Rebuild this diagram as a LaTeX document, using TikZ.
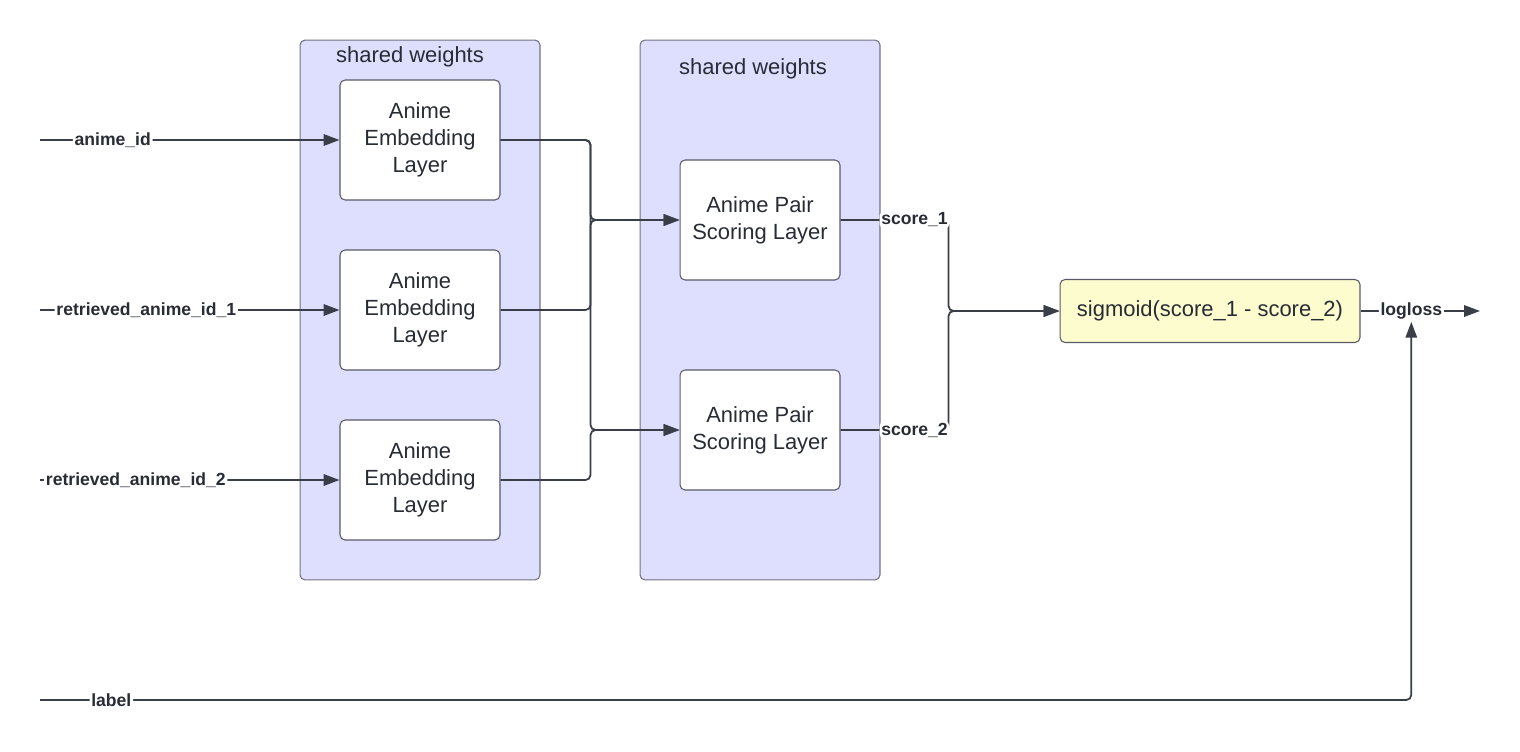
\documentclass[tikz,border=0pt]{standalone}
\usepackage{fontspec}
\setmainfont{Liberation Sans}
\usetikzlibrary{arrows.meta}

\definecolor{grpfill}{RGB}{222,222,255}
\definecolor{grpline}{RGB}{112,114,130}
\definecolor{boxline}{RGB}{88,90,102}
\definecolor{sigfill}{RGB}{252,252,206}
\definecolor{wirecol}{RGB}{58,62,72}
\definecolor{ink}{RGB}{40,44,52}

\tikzset{
  group/.style={draw=grpline, fill=grpfill, rounded corners=0.1cm, line width=0.6pt,
    minimum width=4.8cm, minimum height=10.8cm},
  title/.style={text=ink, font=\fontsize{12.5}{15}\selectfont},
  layer/.style={draw=boxline, fill=white, rounded corners=0.1cm, line width=0.6pt,
    minimum width=3.2cm, minimum height=2.4cm, align=center, text=ink,
    font=\fontsize{12.5}{15.3}\selectfont},
  wire/.style={draw=wirecol, line width=1pt, rounded corners=0.1cm,
    -{Triangle[length=9pt,width=6.5pt]}},
  lbl/.style={fill=white, inner sep=1pt, text=ink, font=\fontsize{10}{12}\selectfont\bfseries},
}

\begin{document}
\begin{tikzpicture}[x=0.02cm, y=-0.02cm]
  \useasboundingbox (0,0) rectangle (1520,751);

  \node[group] (g1) at (420,310) {};
  \node[group] (g2) at (760,310) {};
  \node[title] (t1) at (410,57) {shared weights};
  \node[title] (t2) at (753,69) {shared weights};

  \node[layer] (e1) at (420,140) {Anime\\Embedding\\Layer};
  \node[layer] (e2) at (420,310) {Anime\\Embedding\\Layer};
  \node[layer] (e3) at (420,480) {Anime\\Embedding\\Layer};
  \node[layer] (p1) at (760,220) {Anime Pair\\Scoring Layer};
  \node[layer] (p2) at (760,430) {Anime Pair\\Scoring Layer};
  \node[layer, fill=sigfill, minimum width=6cm, minimum height=1.26cm] (sig) at (1210,311)
    {sigmoid(score\_1 - score\_2)};

  \coordinate (in1) at (40,140);
  \coordinate (in2) at (40,310);
  \coordinate (in3) at (40,480);
  \coordinate (inlab) at (40,700);
  \coordinate (out) at (1480,311);

  % inputs
  \draw[wire] (in1) -- node[lbl, pos=0.243] (l1) {anime\_id} (e1.west);
  \draw[wire] (in2) -- node[lbl, pos=0.355] (l2) {retrieved\_anime\_id\_1} (e2.west);
  \draw[wire] (in3) -- node[lbl, pos=0.32] (l3) {retrieved\_anime\_id\_2} (e3.west);

  % embeddings to scoring
  \draw[wire] (e1.east) -- ++(90,0) |- (p1.west);
  \draw[wire] (e1.east) -- ++(90,0) |- (p2.west);
  \draw[wire] (e2.east) -- ++(90,0) |- (p1.west);
  \draw[wire] (e3.east) -- ++(90,0) |- (p2.west);

  % scores
  \draw[wire] (p1.east) -- node[lbl, pos=0.685] (s1) {score\_1} ++(108,0) |- (sig.west);
  \draw[wire] (p2.east) -- node[lbl, pos=0.685] (s2) {score\_2} ++(108,0) |- (sig.west);

  \draw[wire] (sig.east) -- node[lbl, pos=0.425] (loss) {logloss} (out);
  \draw[wire] (inlab) -| node[lbl, pos=0.026] (llab) {label} (loss.south);
\end{tikzpicture}
\end{document}
